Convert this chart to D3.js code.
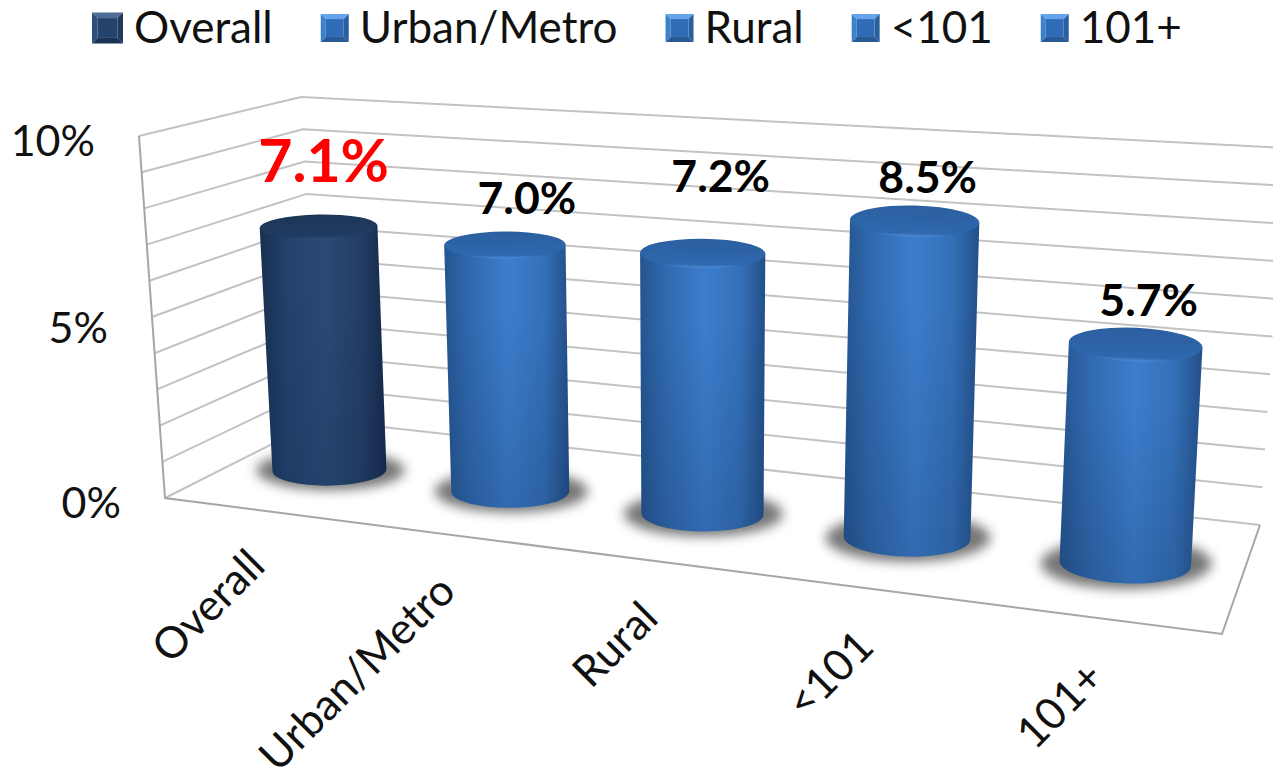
<!DOCTYPE html>
<html>
<head>
<meta charset="utf-8">
<style>
  html, body { margin: 0; padding: 0; background: #fff; overflow: hidden; }
  text { font-family: Lato, "Noto Sans", sans-serif; }
</style>
<script src="https://cdn.jsdelivr.net/npm/d3@7/dist/d3.min.js"></script>
</head>
<body>
<div id="container"></div>
<script>
let w = 1273;
let h = 781;

let categories = ["Overall", "Urban/Metro", "Rural", "<101", "101+"];
let values = [7.1, 7.0, 7.2, 8.5, 5.7];
let gridTicks = [0, 1, 2, 3, 4, 5, 6, 7, 8, 9, 10];
let axisTicks = [0, 5, 10];

let viz = d3.select("#container")
  .append("svg")
  .attr("width", w)
  .attr("height", h)
  .style("display", "block")
  .style("background-color", "white");

let defs = viz.append("defs");

// the chart is a fake 3d box, each edge of it gets its own scale
let yDomain = [0, 10];
let xFrontLeft = d3.scaleLinear().domain(yDomain).range([165, 139]);
let yFrontLeft = d3.scaleLinear().domain(yDomain).range([498, 136]);
let xBackLeft = d3.scaleLinear().domain(yDomain).range([320, 301]);
let yBackLeft = d3.scaleLinear().domain(yDomain).range([420, 97]);
let xBackRight = d3.scaleLinear().domain(yDomain).range([1260, 1285]);
let yBackRight = d3.scaleLinear().domain(yDomain).range([525, 148]);

// axis labels don't sit exactly on the wall in the original
let xAxisLabel = d3.scaleLinear().domain([0, 5, 10]).range([121, 108, 95]);
let yAxisLabel = d3.scaleLinear().domain([0, 5, 10]).range([503, 328, 141]);

// bars get wider and closer to the right: perspective position 0..1
let perspective = 1.17;
let band = d3.scaleBand().domain(categories).range([0, 1]);
let depth = d => {
  let u = band(d) + band.bandwidth() / 2;
  return u / (u + perspective * (1 - u));
};

let xBase = d3.scaleLinear().domain([0, 1]).range([243, 1240]);
let yBase = d3.scaleLinear().domain([0, 1]).range([460, 577]);
let unitHeight = d3.scaleLinear().domain([0, 1]).range([33.8, 39]);
let lean = d3.scaleLinear().domain([0, 1]).range([-1.9, 2.3]);
let rxTop = d3.scaleLinear().domain([0, 1]).range([58, 68]);
let rxBottom = d3.scaleLinear().domain([0, 1]).range([56, 67]);
let ryTop = d3.scaleLinear().domain([0, 1]).range([12, 17.5]);
let ryBottom = d3.scaleLinear().domain([0, 1]).range([15, 20.5]);
let tilt = d3.scaleLinear().domain([0, 1]).range([-1.5, 3]);
let xCategoryLabel = d3.scaleLinear().domain([0, 1]).range([176, 1227]);
let yCategoryLabel = d3.scaleLinear().domain([0, 1]).range([556, 696]);

buildDefs();
buildWalls();
buildAxisLabels();
buildBars();
buildLegend();

function color(d) {
  return d === "Overall" ? "dark" : "blue";
}

function buildDefs() {
  let bodies = {
    dark: ["#182f50", "#22406a", "#2a4a74", "#233e64", "#15294a"],
    blue: ["#25548f", "#3069ae", "#3c7dcd", "#3470b8", "#234f88"]
  };
  let tops = {
    dark: ["#1d3557", "#203c62", "#2f5178"],
    blue: ["#2b5f9f", "#2f68ae", "#4c8cd8"]
  };
  Object.keys(bodies).forEach(name => {
    let body = defs.append("linearGradient").attr("id", "body-" + name);
    body.selectAll("stop")
      .data(bodies[name])
      .enter()
      .append("stop")
      .attr("offset", (d, i) => [0, 0.2, 0.52, 0.8, 1][i])
      .attr("stop-color", d => d);

    let top = defs.append("linearGradient")
      .attr("id", "top-" + name)
      .attr("x1", 0).attr("x2", 0).attr("y1", 0).attr("y2", 1);
    top.selectAll("stop")
      .data(tops[name])
      .enter()
      .append("stop")
      .attr("offset", (d, i) => [0, 0.88, 1][i])
      .attr("stop-color", d => d);
  });

  let fade = defs.append("linearGradient")
    .attr("id", "fade")
    .attr("x1", 0).attr("x2", 0).attr("y1", 0).attr("y2", 1);
  fade.append("stop").attr("offset", 0.25).attr("stop-color", "#102a50").attr("stop-opacity", 0);
  fade.append("stop").attr("offset", 1).attr("stop-color", "#102a50").attr("stop-opacity", 0.22);

  defs.append("filter")
    .attr("id", "soft")
    .attr("x", "-30%").attr("y", "-60%").attr("width", "160%").attr("height", "220%")
    .append("feGaussianBlur")
    .attr("stdDeviation", 6);
}

function buildWalls() {
  let grid = viz.append("g")
    .attr("fill", "none")
    .attr("stroke", "#c2c2c2")
    .attr("stroke-width", 2);

  grid.selectAll(".wall-line")
    .data(gridTicks)
    .enter()
    .append("polyline")
    .attr("class", "wall-line")
    .attr("points", d => [
      [xFrontLeft(d), yFrontLeft(d)],
      [xBackLeft(d), yBackLeft(d)],
      [xBackRight(d), yBackRight(d)]
    ].join(" "));

  // left edge and the front of the floor
  let floorFront = [1222, 634];
  grid.append("polyline")
    .attr("stroke", "#a6a6a6")
    .attr("points", [
      [xFrontLeft(10), yFrontLeft(10)],
      [xFrontLeft(0), yFrontLeft(0)],
      floorFront,
      [xBackRight(0), yBackRight(0)]
    ].join(" "));
}

function buildAxisLabels() {
  viz.selectAll(".axis-label")
    .data(axisTicks)
    .enter()
    .append("text")
    .attr("class", "axis-label")
    .text(d => d + "%")
    .attr("x", d => xAxisLabel(d))
    .attr("y", d => yAxisLabel(d))
    .attr("dy", "0.35em")
    .attr("text-anchor", "end")
    .attr("font-size", 43)
    .attr("fill", "#111");

  viz.selectAll(".category-label")
    .data(categories)
    .enter()
    .append("text")
    .attr("class", "category-label")
    .text(d => d)
    .attr("text-anchor", "end")
    .attr("font-size", 43.5)
    .attr("fill", "#111")
    .attr("transform", d => `translate(${xCategoryLabel(depth(d))}, ${yCategoryLabel(depth(d))}) rotate(-45)`);
}

function ellipsePoint(cx, cy, rx, angle, side) {
  let a = angle * Math.PI / 180;
  return [cx + side * rx * Math.cos(a), cy + side * rx * Math.sin(a)];
}

function buildBars() {
  let bars = viz.selectAll(".bar")
    .data(categories)
    .enter()
    .append("g")
    .attr("class", "bar");

  bars.each(function(name, i) {
    let group = d3.select(this);
    let t = depth(name);
    let value = values[i];

    let bx = xBase(t);
    let by = yBase(t);
    let tx = bx + lean(t) * value;
    let ty = by - unitHeight(t) * value;
    let angle = tilt(t);
    let kind = color(name);

    // shadow on the floor
    group.append("ellipse")
      .attr("cx", bx + 1)
      .attr("cy", by)
      .attr("rx", rxBottom(t) * 1.3)
      .attr("ry", ryBottom(t) * 1.28)
      .attr("fill", "#686868")
      .attr("opacity", 0.9)
      .attr("filter", "url(#soft)");

    let bl = ellipsePoint(bx, by, rxBottom(t), angle, -1);
    let br = ellipsePoint(bx, by, rxBottom(t), angle, 1);
    let tl = ellipsePoint(tx, ty, rxTop(t), angle, -1);
    let tr = ellipsePoint(tx, ty, rxTop(t), angle, 1);
    let bodyPath = `M${tl} L${bl} A${rxBottom(t)} ${ryBottom(t)} ${angle} 0 0 ${br} L${tr} Z`;

    group.append("path")
      .attr("d", bodyPath)
      .attr("fill", `url(#body-${kind})`);
    group.append("path")
      .attr("d", bodyPath)
      .attr("fill", "url(#fade)");

    group.append("ellipse")
      .attr("cx", tx)
      .attr("cy", ty)
      .attr("rx", rxTop(t))
      .attr("ry", ryTop(t))
      .attr("fill", `url(#top-${kind})`)
      .attr("transform", `rotate(${angle} ${tx} ${ty})`);

    // data label, a couple of them were dragged by hand in the original
    let moved = { "Overall": [5, -66], "Urban/Metro": [22, -47], "Rural": [18, -77] };
    let offset = moved[name] || [13, -44];
    group.append("text")
      .text(d3.format(".1f")(value) + "%")
      .attr("x", tx + offset[0])
      .attr("y", ty + offset[1])
      .attr("dy", "0.35em")
      .attr("text-anchor", "middle")
      .attr("font-weight", 700)
      .attr("font-size", name === "Overall" ? 59 : 44.5)
      .attr("fill", name === "Overall" ? "#ff0000" : "#000");
  });
}

function buildLegend() {
  let shades = {
    dark: { center: "#24436c", top: "#4d6c96", left: "#2f4f7a", right: "#1f3a5e", bottom: "#1b3354" },
    blue: { center: "#2f6cb5", top: "#64a4ea", left: "#3f80cc", right: "#2a5f9f", bottom: "#2a5a96" }
  };
  let x = 92;
  let midY = 28;

  categories.forEach(name => {
    let size = name === "Overall" ? 31 : 28;
    let inset = size * 0.18;
    let s = shades[color(name)];
    let item = viz.append("g")
      .attr("class", "legend-item")
      .attr("transform", `translate(${x}, ${midY - size / 2})`);

    let faces = [
      [s.top, [[0, 0], [size, 0], [size - inset, inset], [inset, inset]]],
      [s.right, [[size, 0], [size, size], [size - inset, size - inset], [size - inset, inset]]],
      [s.bottom, [[0, size], [size, size], [size - inset, size - inset], [inset, size - inset]]],
      [s.left, [[0, 0], [0, size], [inset, size - inset], [inset, inset]]],
      [s.center, [[inset, inset], [size - inset, inset], [size - inset, size - inset], [inset, size - inset]]]
    ];
    item.selectAll("polygon")
      .data(faces)
      .enter()
      .append("polygon")
      .attr("points", d => d[1].join(" "))
      .attr("fill", d => d[0]);

    let label = item.append("text")
      .text(name)
      .attr("x", size + 11)
      .attr("y", size / 2)
      .attr("dy", "0.35em")
      .attr("font-size", 44)
      .attr("fill", "#111");

    x += size + 11 + label.node().getComputedTextLength() + 48;
  });
}
</script>
</body>
</html>
